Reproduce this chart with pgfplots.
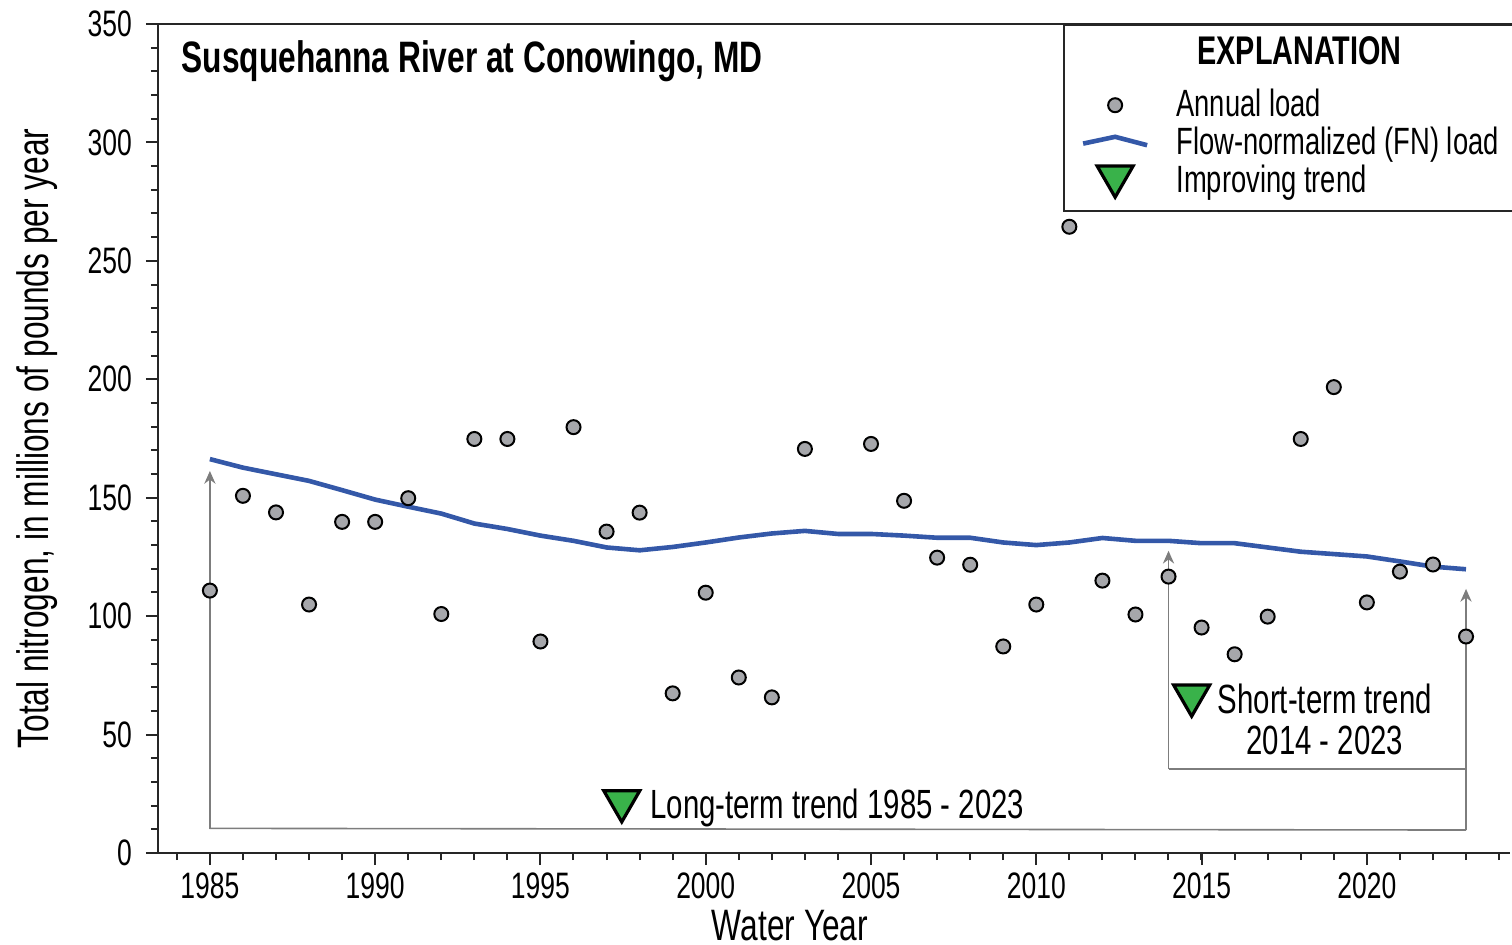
\documentclass[border=0pt]{standalone}
\usepackage{fontspec}
\setmainfont{Liberation Sans}[FakeStretch=0.72]
\usepackage{pgfplots}
\usepackage{pgfplotstable}
\pgfplotsset{compat=1.18}
\usetikzlibrary{arrows.meta}
\definecolor{ptfill}{RGB}{166,167,171}
\definecolor{fnblue}{RGB}{52,88,168}
\definecolor{trendgreen}{RGB}{57,178,74}
\definecolor{arrowgray}{RGB}{125,125,125}

\pgfplotsset{
  fnlegend/.style={legend image code/.code={\draw[##1] (0pt,0pt) -- (8pt,1.7pt) -- (16pt,-0.4pt);}},
  trilegend/.style={legend image code/.code={\draw[##1] plot coordinates {(8pt,1.9pt)};}},
}

\pgfplotstableread{
year load
1985 110.8
1986 150.8
1987 143.8
1988 104.9
1989 139.8
1990 139.8
1991 149.8
1992 100.9
1993 174.8
1994 174.8
1995 89.3
1996 179.8
1997 135.7
1998 143.7
1999 67.4
2000 109.9
2001 74.1
2002 65.7
2003 170.6
2005 172.7
2006 148.7
2007 124.7
2008 121.7
2009 87.2
2010 104.9
2011 264.4
2012 115.0
2013 100.7
2014 116.7
2015 95.2
2016 83.9
2017 99.8
2018 174.8
2019 196.7
2020 105.8
2021 118.8
2022 121.8
2023 91.4
}\annual

\pgfplotstableread{
year fn
1985 166.3
1986 162.7
1987 159.9
1988 157.1
1989 153.2
1990 149.2
1991 146.2
1992 143.3
1993 139.1
1994 136.8
1995 134.0
1996 131.8
1997 129.0
1998 127.8
1999 129.2
2000 131.1
2001 133.2
2002 134.9
2003 136.0
2004 134.7
2005 134.7
2006 134.0
2007 133.1
2008 133.1
2009 131.1
2010 130.0
2011 131.1
2012 133.0
2013 131.8
2014 131.8
2015 130.8
2016 130.8
2017 129.0
2018 127.2
2019 126.2
2020 125.2
2021 123.1
2022 120.9
2023 119.8
}\fnload

\begin{document}
\begin{tikzpicture}
\path[use as bounding box] (-39.5pt,-22.75pt) rectangle (338.5pt,213.25pt);
\begin{axis}[
  at={(0,0)}, anchor=south west,
  scale only axis, width=338pt, height=207.25pt,
  xmin=1983.43, xmax=2024.33, ymin=0, ymax=350,
  axis x line*=bottom, axis y line*=left,
  axis line style={black!85, line width=0.6pt},
  xtick={1985,1990,...,2020}, minor xtick={1984,...,2024},
  ytick={0,50,...,350}, minor ytick={10,20,...,340},
  tick align=outside,
  major tick length=3pt, minor tick length=1.8pt,
  tick style={black!85, line width=0.5pt},
  x tick label style={/pgf/number format/1000 sep={}, yshift=1.5pt},
  /pgf/number format/assume math mode=true,
  ticklabel style={font=\fontsize{9.2}{11}\selectfont},
  xlabel={Water Year},
  ylabel={Total nitrogen, in millions of pounds per year},
  label style={font=\fontsize{11}{13}\selectfont},
  xlabel style={at={(axis description cs:0.4675,-0.0875)}, anchor=center},
  ylabel style={at={(axis description cs:-0.0895,0.5)}, anchor=center},
  clip=false,
  legend cell align=left,
  legend style={at={(1.005,1)}, anchor=north east, draw=black!85, line width=0.5pt,
    fill=white, inner xsep=4.25pt, inner ysep=2pt, row sep=1pt,
    font=\fontsize{9.5}{11}\selectfont,
    nodes={inner sep=0pt, text height=7pt, text depth=1.6pt},
    /tikz/every odd column/.append style={column sep=6.75pt}},
  legend image code/.code={\draw[mark repeat=2,mark phase=2,#1] plot coordinates {(0pt,0pt) (8pt,0pt) (16pt,0pt)};},
]
% trend brackets
\draw[arrowgray, line width=0.4pt, -{Stealth[length=3.2pt,width=2.8pt]}] (axis cs:1985,10) -- (axis cs:1985,161.3);
\draw[arrowgray, line width=0.4pt] (axis cs:1985,10.4) -- (axis cs:2023,9.7);
\draw[arrowgray, line width=0.4pt, -{Stealth[length=3.2pt,width=2.8pt]}] (axis cs:2023,9.7) -- (axis cs:2023,111.5);
\draw[arrowgray, line width=0.4pt, -{Stealth[length=3.2pt,width=2.8pt]}] (axis cs:2014,35.4) -- (axis cs:2014,127.6);
\draw[arrowgray, line width=0.4pt] (axis cs:2014,35.4) -- (axis cs:2023,35.4);

\addplot[fnblue, line width=1.15pt, forget plot] table[x=year,y=fn] {\fnload};
\addplot[only marks, mark=*, mark size=1.75pt, mark options={fill=ptfill, draw=black, line width=0.5pt}, forget plot] table[x=year,y=load] {\annual};
\addplot[only marks, mark=triangle*, mark size=5.2pt, mark options={rotate=180, fill=trendgreen, draw=black, line width=0.8pt}, forget plot] coordinates {(1997.46,21.9) (2014.7,66.5)};

\node[inner sep=0pt, anchor=base west, font=\fontsize{10.2}{12}\selectfont] at (axis cs:1998.3,14.7) {Long-term trend 1985 - 2023};
\node[inner sep=0pt, anchor=base, font=\fontsize{10.2}{12}\selectfont] at (axis cs:2018.73,59) {Short-term trend};
\node[inner sep=0pt, anchor=base, font=\fontsize{10.2}{12}\selectfont] at (axis cs:2018.73,41.7) {2014 - 2023};

\node[inner sep=0pt, anchor=base west, font=\bfseries\fontsize{11}{13}\selectfont] at (axis description cs:0.017,0.942) {Susquehanna River at Conowingo, MD};
\draw[black!85, line width=0.6pt] (axis description cs:0,1) -- (axis description cs:1.006,1);

\addlegendimage{empty legend}
\addlegendentry[text height=7.75pt, text depth=5pt, font=\bfseries\fontsize{10}{12}\selectfont]{\hspace{5.25pt}EXPLANATION}
\addlegendimage{only marks, mark=*, mark size=1.75pt, mark options={fill=ptfill, draw=black, line width=0.5pt}}
\addlegendentry{Annual load}
\addlegendimage{fnblue, line width=1.15pt, fnlegend}
\addlegendentry{Flow-normalized (FN) load}
\addlegendimage{only marks, mark=triangle*, mark size=5.2pt, mark options={rotate=180, fill=trendgreen, draw=black, line width=0.8pt}, trilegend}
\addlegendentry[text depth=2.6pt]{Improving trend}
\end{axis}
\end{tikzpicture}
\end{document}
